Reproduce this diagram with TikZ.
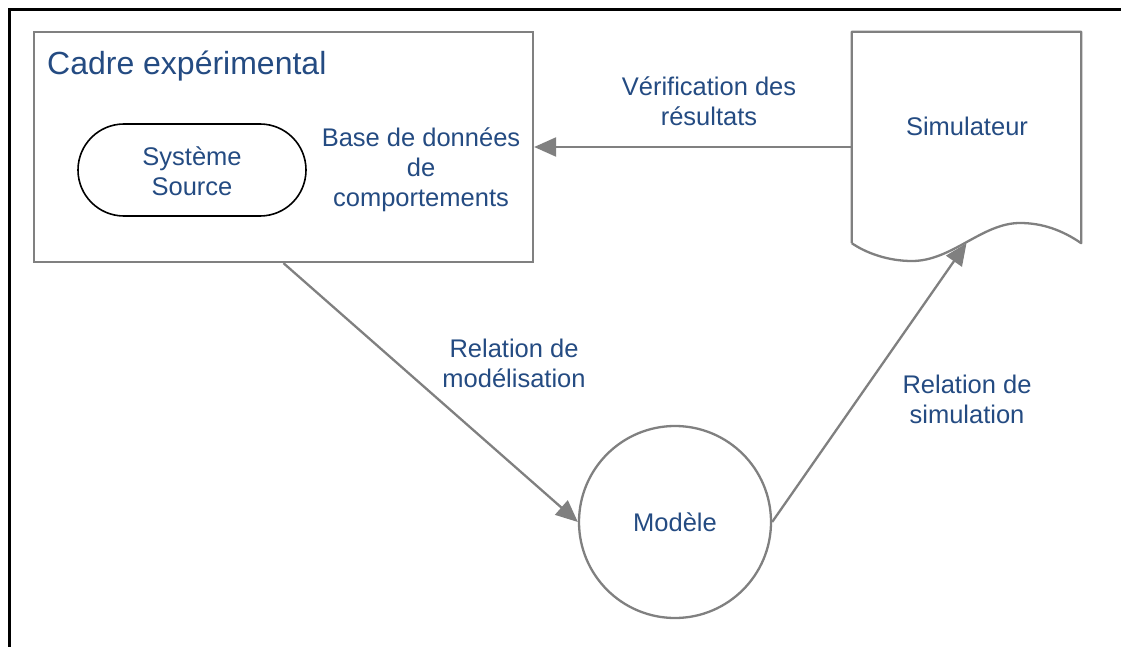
\documentclass[tikz,border=0pt]{standalone}
\usepackage{fontspec}
\setmainfont{Liberation Sans}
\usetikzlibrary{arrows.meta,calc}
\definecolor{txtblue}{RGB}{36,75,130}
\definecolor{lgray}{RGB}{128,128,128}
\begin{document}
\begin{tikzpicture}[x=1pt,y=-1pt,
  lbl/.style={text=txtblue,align=center,font=\fontsize{25.5}{30}\selectfont,inner sep=0pt},
  grayline/.style={draw=lgray,line width=2.3pt},
  conn/.style={grayline,-{Triangle[length=22pt,width=19pt]}}]
\useasboundingbox (0,0) rectangle (1121,647);
\clip (0,0) rectangle (1121,647);
\fill[white] (0,0) rectangle (1121,647);
% outer frame
\draw[black,line width=2.5pt] (9.5,700) -- (9.5,9.5) -- (1200,9.5);
% cadre experimental
\node[grayline,rectangle,minimum width=499pt,minimum height=230pt,inner sep=0pt] (cadre) at (283.5,147) {};
\node[lbl,font=\fontsize{32}{36}\selectfont,anchor=west] (cadretxt) at (47,66) {Cadre expérimental};
\node[draw=black,line width=1.6pt,rectangle,rounded corners=46pt,minimum width=228pt,minimum height=92pt,inner sep=0pt] (sys) at (192,170) {};
\node[lbl] (systxt) at (192,171) {Système\\Source};
\node[lbl] (base) at (421,170) {Base de données\\de\\comportements};
% simulateur
\node[rectangle,minimum width=229pt,minimum height=211pt,inner sep=0pt] (sim) at (966.5,137.5) {};
\draw[grayline,line join=round] (sim.south west) -- (sim.north west) -- (sim.north east) -- (sim.south east)
  .. controls (1062,230) and (1042,223) .. (1020,223)
  .. controls (982,223) and (952,261) .. (912,261)
  .. controls (888,261) and (866,253) .. (sim.south west);
\node[lbl] (simtxt) at (967,126) {Simulateur};
% modele
\node[grayline,circle,minimum size=192pt,inner sep=0pt] (mod) at (675,522) {};
\node[lbl] (modtxt) at (675,522) {Modèle};
% connectors
\draw[conn] (cadre.south) -- (mod.west);
\draw[conn] (mod.east) -- (sim.south);
\draw[conn] (sim.west |- cadre.east) -- (cadre.east);
% labels
\node[lbl] (verif) at (709,101) {Vérification des\\résultats};
\node[lbl] (relmod) at (514,363) {Relation de\\modélisation};
\node[lbl] (relsim) at (967,399) {Relation de\\simulation};
\end{tikzpicture}
\end{document}
